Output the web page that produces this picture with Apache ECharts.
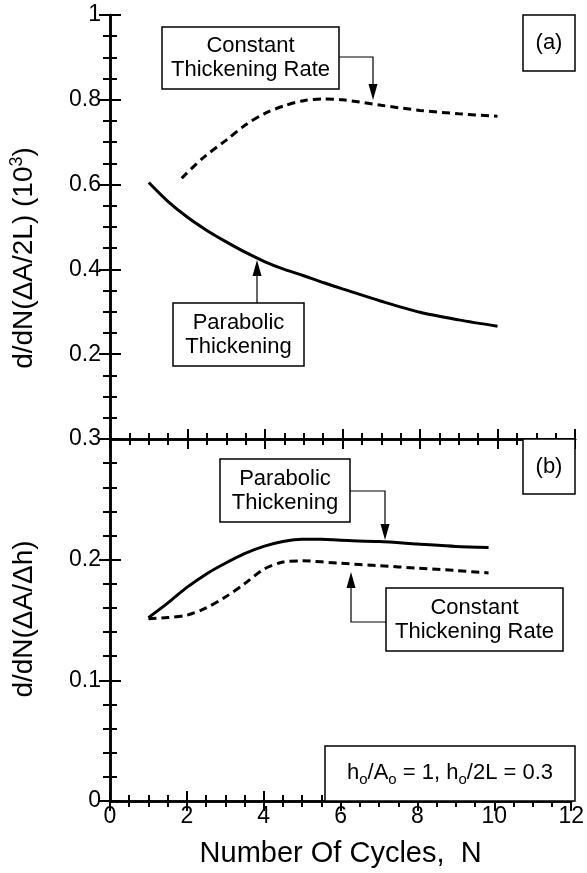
<!DOCTYPE html>
<html>
<head>
<meta charset="utf-8">
<script src="https://cdn.jsdelivr.net/npm/echarts@6/dist/echarts.min.js"></script>
<style>
  html, body { margin: 0; padding: 0; background: #fff; }
  #chart { width: 587px; height: 873px; }
</style>
</head>
<body>
<div id="chart"></div>
<script>
// panel (a): d/dN(dA/2L) (10^3)
const nParA = [1, 1.5, 2, 2.5, 3, 3.5, 4, 4.5, 5, 5.5, 6, 7, 8, 9, 10];
const parA = [0.605, 0.56, 0.523, 0.492, 0.465, 0.44, 0.418, 0.4, 0.385, 0.369, 0.354, 0.325, 0.299, 0.281, 0.266];
const nConA = [1.85, 2.4, 3, 3.5, 4, 4.5, 5, 5.5, 6, 7, 8, 9, 10];
const conA = [0.615, 0.663, 0.705, 0.741, 0.768, 0.786, 0.798, 0.802, 0.8, 0.787, 0.775, 0.767, 0.761];

// panel (b): d/dN(dA/dh)
const nParB = [1, 1.5, 2, 2.5, 3, 3.5, 4, 4.5, 5, 5.5, 6, 7, 8, 9, 9.85];
const parB = [0.152, 0.164, 0.177, 0.188, 0.197, 0.205, 0.211, 0.215, 0.217, 0.217, 0.216, 0.215, 0.213, 0.211, 0.21];
const nConB = [1, 1.5, 2, 2.5, 3, 3.5, 4, 4.5, 5, 6, 7, 8, 9, 9.85];
const conB = [0.151, 0.152, 0.154, 0.16, 0.169, 0.18, 0.192, 0.198, 0.199, 0.197, 0.195, 0.193, 0.191, 0.189];

const xTicks = { min: 0, max: 12, interval: 2 };
const yTicksA = { min: 0, max: 1, interval: 0.2 };
const yTicksB = { min: 0, max: 0.3, interval: 0.1 };

const FONT = '"Liberation Sans", Arial, Helvetica, sans-serif';

function zip(xs, ys) {
  return xs.map((x, i) => [x, ys[i]]);
}

// shared axis look
function xAx(grid, pos, labels) {
  return {
    type: 'value', gridIndex: grid, position: pos,
    min: xTicks.min, max: xTicks.max, interval: xTicks.interval,
    axisLine: { lineStyle: { color: '#000', width: 2.5 } },
    axisTick: { inside: true, length: 10, lineStyle: { color: '#000', width: 2 } },
    minorTick: { show: true, splitNumber: 4, length: 6, lineStyle: { color: '#000', width: 2 } },
    splitLine: { show: false },
    axisLabel: { show: labels, color: '#000', fontSize: 23, fontFamily: FONT, margin: 4 }
  };
}
function yAx(grid, pos, t, minorSplit, labels, fmt) {
  return {
    type: 'value', gridIndex: grid, position: pos,
    min: t.min, max: t.max, interval: t.interval,
    axisLine: { lineStyle: { color: '#000', width: 2.5 } },
    axisTick: { inside: true, length: 11, lineStyle: { color: '#000', width: 2 } },
    minorTick: { show: true, splitNumber: minorSplit, length: 7, lineStyle: { color: '#000', width: 2 } },
    splitLine: { show: false },
    axisLabel: { show: labels, color: '#000', fontSize: 23, fontFamily: FONT, margin: 9, formatter: fmt }
  };
}

const solid = { color: '#000', width: 3 };
const dashed = { color: '#000', width: 3, type: [8, 5] };

// annotation helpers (pixel layout)
function box(x, y, w, h, lines) {
  return [
    { type: 'rect', shape: { x: x, y: y, width: w, height: h }, style: { fill: '#fff', stroke: '#000', lineWidth: 1.5 }, z: 10 },
    { type: 'text', x: x + w / 2, y: y + h / 2, z: 11,
      style: { text: lines, fill: '#000', font: '22px ' + FONT, align: 'center', verticalAlign: 'middle', lineHeight: 24 } }
  ];
}
function arrow(points) {
  const tip = points[points.length - 1];
  const prev = points[points.length - 2];
  const dir = Math.sign(tip[1] - prev[1]);
  const L = 16, W = 4.5;
  return [
    { type: 'polyline', shape: { points: points.slice(0, -1).concat([[tip[0], tip[1] - dir * L]]) }, style: { stroke: '#000', lineWidth: 1.2, fill: null }, z: 10 },
    { type: 'polygon', shape: { points: [[tip[0], tip[1]], [tip[0] - W, tip[1] - dir * L], [tip[0] + W, tip[1] - dir * L]] }, style: { fill: '#000' }, z: 10 }
  ];
}

const chart = echarts.init(document.getElementById('chart'));

const option = {
  animation: false,
  backgroundColor: '#fff',
  grid: [
    { left: 110, right: 12, top: 15, height: 424 },
    { left: 110, right: 12, top: 439, height: 362 }
  ],
  xAxis: [
    xAx(0, 'bottom', false),
    xAx(0, 'top', false),
    xAx(1, 'top', false),
    Object.assign(xAx(1, 'bottom', true), {
      name: 'Number Of Cycles,  N', nameLocation: 'middle', nameGap: 38,
      nameTextStyle: { color: '#000', fontSize: 29, fontFamily: FONT }
    })
  ],
  yAxis: [
    yAx(0, 'left', yTicksA, 4, true, v => (v === 0 ? '' : String(v))),
    yAx(0, 'right', yTicksA, 4, false),
    yAx(1, 'left', yTicksB, 5, true, v => String(+v.toFixed(2))),
    yAx(1, 'right', yTicksB, 5, false)
  ],
  series: [
    { name: 'Parabolic Thickening (a)', type: 'line', xAxisIndex: 0, yAxisIndex: 0, data: zip(nParA, parA), smooth: 0.3, symbol: 'none', lineStyle: solid },
    { name: 'Constant Thickening Rate (a)', type: 'line', xAxisIndex: 0, yAxisIndex: 0, data: zip(nConA, conA), smooth: 0.3, symbol: 'none', lineStyle: dashed },
    { name: 'Parabolic Thickening (b)', type: 'line', xAxisIndex: 3, yAxisIndex: 2, data: zip(nParB, parB), smooth: 0.3, symbol: 'none', lineStyle: solid },
    { name: 'Constant Thickening Rate (b)', type: 'line', xAxisIndex: 3, yAxisIndex: 2, data: zip(nConB, conB), smooth: 0.3, symbol: 'none', lineStyle: dashed }
  ],
  graphic: [].concat(
    // y axis titles
    [{ type: 'text', x: 24, y: 258, rotation: Math.PI / 2,
      style: { text: 'd/dN(ΔA/2L) (10{sup|3})', fill: '#000', font: '28px ' + FONT, align: 'center', verticalAlign: 'middle', lineHeight: 32,
        rich: { sup: { fontSize: 18, lineHeight: 16, verticalAlign: 'top', fontFamily: FONT } } } },
     { type: 'text', x: 24, y: 619, rotation: Math.PI / 2,
      style: { text: 'd/dN(ΔA/Δh)', fill: '#000', font: '28px ' + FONT, align: 'center', verticalAlign: 'middle' } }],
    // panel (a)
    arrow([[339, 57], [373, 57], [373, 100]]),
    box(162, 27, 177, 62, 'Constant\nThickening Rate'),
    arrow([[257, 303], [257, 260]]),
    box(173, 303, 131, 63, 'Parabolic\nThickening'),
    box(523, 15, 52, 56, '(a)'),
    // panel (b)
    arrow([[350, 491], [385, 491], [385, 540]]),
    box(220, 459, 130, 63, 'Parabolic\nThickening'),
    arrow([[386, 622], [351, 622], [351, 572]]),
    box(386, 588, 177, 63, 'Constant\nThickening Rate'),
    box(523, 439, 52, 55, '(b)'),
    [{ type: 'rect', shape: { x: 325, y: 746, width: 250, height: 55 }, style: { fill: '#fff', stroke: '#000', lineWidth: 1.5 }, z: 10 },
     { type: 'text', x: 450, y: 773, z: 11,
      style: { text: 'h{sub|o}/A{sub|o} = 1, h{sub|o}/2L = 0.3', fill: '#000', font: '22px ' + FONT, align: 'center', verticalAlign: 'middle', lineHeight: 28,
        rich: { sub: { fontSize: 15, lineHeight: 12, verticalAlign: 'bottom', fontFamily: FONT } } } }]
  )
};

chart.setOption(option);
window.addEventListener('resize', function () {
  chart.resize();
});
</script>
</body>
</html>
